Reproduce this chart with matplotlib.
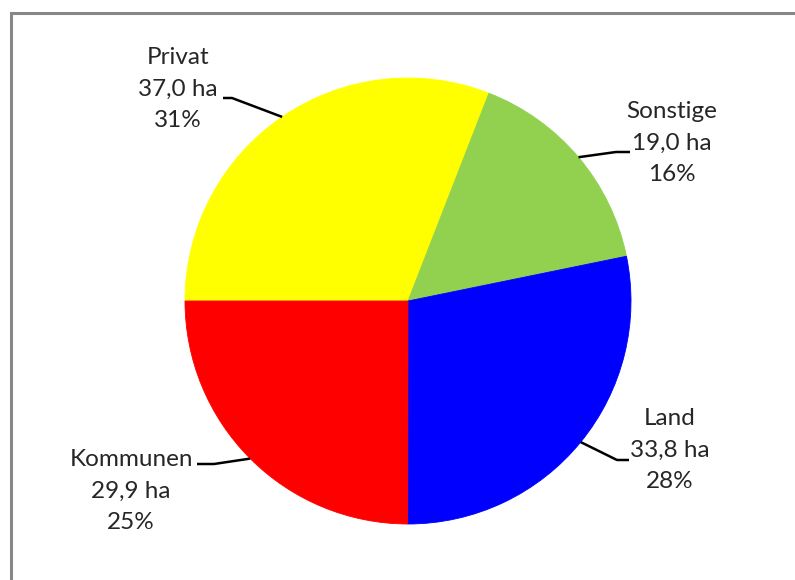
import matplotlib
matplotlib.use("Agg")
import matplotlib.pyplot as plt
import numpy as np

# Flächenanteile nach Eigentümer (ha)
categories = ["Privat", "Sonstige", "Land", "Kommunen"]
values = [37.0, 19.0, 33.8, 29.9]
colors = ["#FFFF00", "#92D050", "#0000FF", "#FF0000"]

W, H = 795, 580
fig = plt.figure(figsize=(W / 100, H / 100), dpi=100)
ax = fig.add_axes([0, 0, 1, 1])

# chart frame (top and left edges visible)
ax.add_patch(plt.Rectangle((11, -20), W + 20, H - 13 + 20, fill=False,
                           edgecolor="#878787", linewidth=2.2))

cx, cy, r = 408, H - 301, 223
wedges, _ = ax.pie(values, colors=colors, startangle=180, counterclock=False,
                   center=(cx, cy), radius=r, frame=True,
                   wedgeprops=dict(linewidth=0.6))
for w, c in zip(wedges, colors):
    w.set_edgecolor(c)
ax.set_xlim(0, W)
ax.set_ylim(0, H)
ax.set_aspect("equal")
ax.axis("off")

# label placement: text center, elbow of leader, leader end next to text
label_layout = {
    "Privat":   dict(text=(178, 89), elbow=(232, 98), end=(223, 98)),
    "Sonstige": dict(text=(672, 143), elbow=(616, 152), end=(630, 152)),
    "Land":     dict(text=(670, 450), elbow=(617, 460), end=(629, 460)),
    "Kommunen": dict(text=(131, 491), elbow=(214, 464), end=(197, 464)),
}

total = sum(values)
for w, name, v in zip(wedges, categories, values):
    mid = np.deg2rad((w.theta1 + w.theta2) / 2)
    px, py = cx + r * np.cos(mid), cy + r * np.sin(mid)
    lay = label_layout[name]
    ex, ey = lay["elbow"]
    nx, ny = lay["end"]
    ax.plot([px, ex, nx], [py, H - ey, H - ny], color="black", lw=1.8,
            solid_capstyle="butt", zorder=3)
    tx, ty = lay["text"]
    pct = round(100 * v / total)
    txt = f"{name}\n{v:.1f}".replace(".", ",") + f" ha\n{pct}%"
    ax.text(tx, H - ty, txt, ha="center", va="center", fontsize=17.5,
            family="Lato", color="#262626", linespacing=1.62)

fig.savefig("out.png", dpi=100)
